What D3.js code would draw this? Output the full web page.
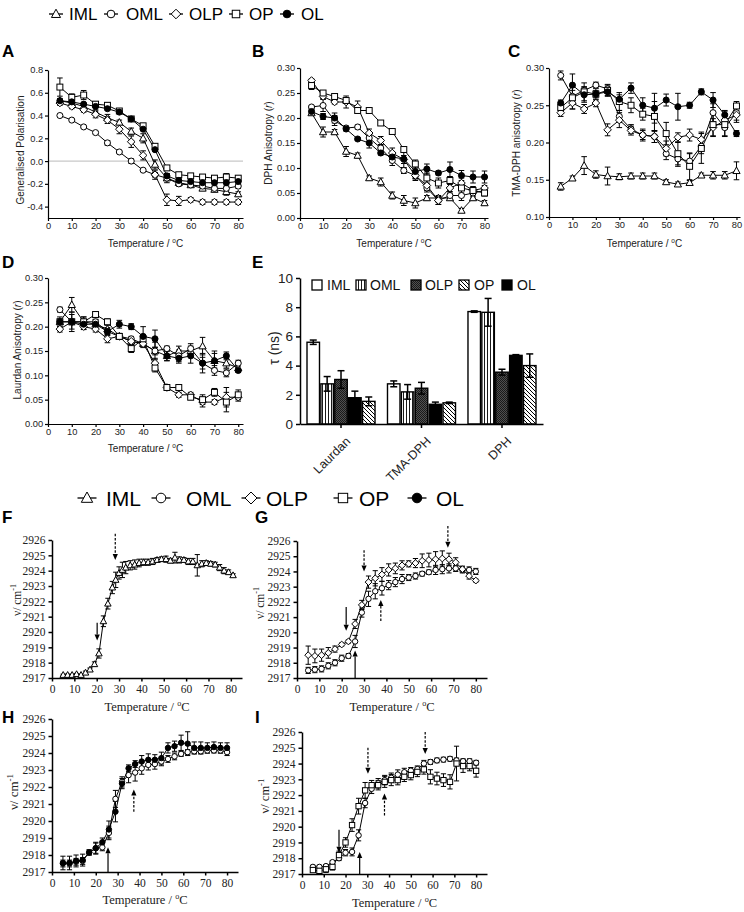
<!DOCTYPE html>
<html><head><meta charset="utf-8">
<script src="https://cdn.jsdelivr.net/npm/d3@7"></script>
<style>body{margin:0;background:#fff}</style>
</head><body><svg id="c" width="744" height="912"></svg>
<script>
// ---------- DATA ----------
const seriesNames = ["IML","OML","OLP","OP","OL"];
const tAD = [5,10,15,20,25,30,35,40,45,50,55,60,65,70,75,80];
const xTicks = [0,10,20,30,40,50,60,70,80];

// A: Generalised Polarisation
const gpIML = [0.53,0.51,0.48,0.43,0.38,0.34,0.26,0.20,-0.03,-0.15,-0.19,-0.21,-0.24,-0.25,-0.27,-0.29];
const gpOML = [0.40,0.36,0.30,0.25,0.16,0.08,0.00,-0.08,-0.12,-0.15,-0.20,-0.21,-0.22,-0.24,-0.24,-0.22];
const gpOLP = [0.51,0.48,0.45,0.41,0.36,0.28,0.17,0.05,-0.12,-0.34,-0.35,-0.34,-0.36,-0.36,-0.36,-0.36];
const gpOP  = [0.65,0.56,0.58,0.50,0.49,0.44,0.37,0.31,0.13,-0.06,-0.12,-0.13,-0.14,-0.15,-0.14,-0.15];
const gpOL  = [0.53,0.52,0.50,0.48,0.46,0.43,0.37,0.28,0.10,-0.13,-0.17,-0.18,-0.19,-0.19,-0.19,-0.18];
const gpIMLErr = [0.02,0.02,0.02,0.02,0.03,0.02,0.03,0.04,0.04,0.04,0.02,0.02,0.02,0.02,0.03,0.02];
const gpOMLErr = [0.01,0.01,0.01,0.01,0.02,0.01,0.02,0.01,0.02,0.02,0.02,0.02,0.02,0.02,0.02,0.02];
const gpOLPErr = [0.02,0.02,0.02,0.03,0.03,0.04,0.05,0.04,0.04,0.05,0.04,0.02,0.02,0.02,0.02,0.02];
const gpOPErr  = [0.08,0.03,0.04,0.02,0.02,0.01,0.02,0.02,0.02,0.02,0.02,0.02,0.02,0.02,0.03,0.02];
const gpOLErr  = [0.01,0.01,0.01,0.01,0.01,0.01,0.01,0.01,0.01,0.02,0.02,0.02,0.03,0.03,0.03,0.03];

// B: DPH anisotropy
const dphIML = [0.210,0.172,0.172,0.133,0.125,0.080,0.072,0.045,0.035,0.030,0.040,0.040,0.040,0.015,0.040,0.030];
const dphOML = [0.222,0.225,0.195,0.180,0.182,0.160,0.140,0.115,0.095,0.085,0.060,0.035,0.045,0.045,0.050,0.055];
const dphOLP = [0.275,0.243,0.232,0.232,0.222,0.170,0.155,0.130,0.117,0.085,0.065,0.035,0.060,0.070,0.055,0.060];
const dphOP  = [0.265,0.250,0.243,0.235,0.215,0.215,0.190,0.173,0.137,0.108,0.080,0.070,0.075,0.060,0.055,0.050];
const dphOL  = [0.213,0.203,0.200,0.178,0.158,0.150,0.130,0.122,0.118,0.093,0.098,0.090,0.097,0.085,0.082,0.082];
const dphIMLErr = [0.004,0.010,0.005,0.010,0.005,0.004,0.008,0.007,0.010,0.010,0.005,0.005,0.004,0.004,0.004,0.005];
const dphOMLErr = [0.003,0.012,0.010,0.004,0.004,0.004,0.006,0.010,0.006,0.006,0.008,0.008,0.008,0.010,0.008,0.006];
const dphOLPErr = [0.003,0.004,0.004,0.012,0.012,0.008,0.008,0.010,0.008,0.010,0.010,0.008,0.010,0.010,0.006,0.005];
const dphOPErr  = [0.008,0.003,0.004,0.003,0.004,0.004,0.003,0.003,0.005,0.008,0.010,0.010,0.008,0.010,0.008,0.006];
const dphOLErr  = [0.004,0.006,0.010,0.004,0.003,0.010,0.004,0.010,0.018,0.015,0.010,0.004,0.015,0.010,0.012,0.012];

// C: TMA-DPH anisotropy
const tmaIML = [0.141,0.152,0.169,0.157,0.155,0.154,0.155,0.155,0.155,0.147,0.144,0.146,0.156,0.156,0.156,0.162];
const tmaOML = [0.290,0.262,0.270,0.277,0.272,0.235,0.218,0.210,0.208,0.185,0.178,0.175,0.195,0.240,0.220,0.240];
const tmaOLP = [0.240,0.253,0.245,0.253,0.217,0.230,0.216,0.210,0.208,0.192,0.207,0.210,0.204,0.220,0.230,0.237];
const tmaOP  = [0.247,0.260,0.268,0.265,0.270,0.255,0.250,0.238,0.235,0.212,0.185,0.168,0.192,0.224,0.224,0.249];
const tmaOL  = [0.253,0.277,0.264,0.265,0.268,0.258,0.273,0.250,0.246,0.257,0.248,0.250,0.268,0.257,0.237,0.212];
const tmaIMLErr = [0.005,0.003,0.012,0.005,0.012,0.004,0.004,0.004,0.004,0.003,0.003,0.003,0.003,0.005,0.005,0.012];
const tmaOMLErr = [0.006,0.008,0.005,0.004,0.005,0.008,0.006,0.006,0.008,0.008,0.010,0.010,0.010,0.012,0.012,0.010];
const tmaOLPErr = [0.005,0.008,0.006,0.005,0.008,0.010,0.006,0.008,0.008,0.010,0.006,0.008,0.010,0.012,0.012,0.010];
const tmaOPErr  = [0.005,0.015,0.012,0.008,0.008,0.012,0.010,0.008,0.020,0.015,0.015,0.018,0.020,0.015,0.015,0.006];
const tmaOLErr  = [0.004,0.015,0.010,0.005,0.005,0.006,0.007,0.010,0.020,0.008,0.018,0.004,0.004,0.010,0.006,0.004];

// D: Laurdan anisotropy
const laIML = [0.210,0.245,0.210,0.205,0.195,0.180,0.170,0.165,0.150,0.140,0.150,0.150,0.160,0.130,0.125,0.115];
const laOML = [0.235,0.210,0.210,0.210,0.190,0.180,0.175,0.165,0.150,0.155,0.140,0.155,0.125,0.110,0.105,0.125];
const laOLP = [0.195,0.210,0.200,0.195,0.175,0.180,0.170,0.165,0.125,0.075,0.060,0.060,0.045,0.045,0.055,0.055];
const laOP  = [0.210,0.210,0.210,0.225,0.210,0.180,0.155,0.175,0.115,0.075,0.075,0.055,0.050,0.065,0.045,0.060];
const laOL  = [0.210,0.210,0.205,0.205,0.190,0.205,0.200,0.180,0.175,0.140,0.135,0.140,0.125,0.130,0.140,0.110];
const laIMLErr = [0.010,0.015,0.010,0.008,0.008,0.006,0.006,0.006,0.018,0.010,0.010,0.010,0.018,0.015,0.010,0.008];
const laOMLErr = [0.005,0.020,0.005,0.005,0.006,0.006,0.005,0.005,0.008,0.005,0.012,0.010,0.012,0.010,0.008,0.006];
const laOLPErr = [0.006,0.006,0.006,0.006,0.008,0.006,0.006,0.008,0.010,0.005,0.005,0.005,0.010,0.005,0.020,0.008];
const laOPErr  = [0.005,0.005,0.010,0.006,0.006,0.006,0.008,0.008,0.008,0.006,0.005,0.005,0.010,0.008,0.020,0.010];
const laOLErr  = [0.006,0.015,0.010,0.010,0.008,0.008,0.006,0.020,0.018,0.010,0.010,0.015,0.020,0.020,0.008,0.004];

// E: lifetimes (bar order IML, OML, OLP, OL, OP)
const probes = ["Laurdan","TMA-DPH","DPH"];
const barOrder = ["IML","OML","OLP","OL","OP"];
const tauIML = [5.6,2.75,7.7];
const tauOML = [2.75,2.2,7.65];
const tauOLP = [3.05,2.45,3.55];
const tauOL  = [1.8,1.35,4.7];
const tauOP  = [1.55,1.45,4.0];
const tauIMLErr = [0.15,0.2,0.05];
const tauOMLErr = [0.5,0.5,0.95];
const tauOLPErr = [0.6,0.4,0.2];
const tauOLErr  = [0.45,0.15,0.05];
const tauOPErr  = [0.3,0.05,0.8];
const tauTicks = [0,2,4,6,8,10];

// F-I: FTIR CH2 stretching
const nuTicks = [2917,2918,2919,2920,2921,2922,2923,2924,2925,2926];
const tF = [5,7,9,11,13,15,17,19,21,23,25,27,28.5,30,31.5,33,35,37,39,41,43,45,47,49,51,53,55,57,59,61,63,65,67,69,71,73,75,77,79,81];
const fIML = [2917.2,2917.2,2917.2,2917.25,2917.2,2917.35,2917.55,2917.9,2918.6,2920.7,2921.85,2922.9,2923.4,2923.85,2924.05,2924.2,2924.35,2924.4,2924.5,2924.55,2924.55,2924.6,2924.7,2924.75,2924.75,2924.65,2924.85,2924.7,2924.7,2924.6,2924.6,2924.35,2924.45,2924.5,2924.45,2924.4,2924.2,2924.0,2923.9,2923.7];
const fIMLErr = [0.05,0.05,0.05,0.05,0.05,0.1,0.1,0.15,0.3,0.35,0.35,0.4,0.5,0.4,0.5,0.4,0.3,0.3,0.25,0.2,0.2,0.2,0.15,0.15,0.2,0.15,0.35,0.2,0.15,0.2,0.2,0.7,0.2,0.15,0.15,0.15,0.2,0.2,0.15,0.1];
const tFT = [5,8,11,14,17,20,23,26,29,32,35,38,41,44,47,50,53,56,59,62,65,68,71,74,77,80];
const gOLP = [2918.5,2918.45,2918.5,2918.65,2918.9,2919.2,2919.4,2920.55,2921.8,2923.3,2923.55,2923.8,2924.1,2924.2,2924.4,2924.5,2924.55,2924.7,2924.75,2924.8,2924.85,2924.8,2924.6,2924.15,2923.7,2923.4];
const gOLPErr = [0.6,0.45,0.4,0.35,0.2,0.1,0.1,0.3,0.3,0.4,0.5,0.45,0.4,0.35,0.3,0.2,0.3,0.45,0.45,0.5,0.5,0.4,0.3,0.2,0.2,0.1];
const gOML = [2917.5,2917.55,2917.6,2917.8,2918.0,2918.3,2918.45,2919.4,2921.3,2922.2,2922.7,2922.9,2923.1,2923.3,2923.5,2923.6,2923.7,2923.85,2923.95,2924.1,2924.15,2924.2,2924.2,2924.1,2924.1,2924.0];
const gOMLErr = [0.2,0.2,0.2,0.2,0.2,0.2,0.15,0.4,0.3,0.5,0.5,0.45,0.3,0.3,0.3,0.2,0.2,0.15,0.15,0.3,0.3,0.3,0.2,0.2,0.2,0.2];
const hOL  = [2917.53,2917.53,2917.65,2917.7,2918.15,2918.4,2918.75,2919.5,2920.55,2922.2,2923.1,2923.35,2923.5,2923.6,2923.6,2923.7,2924.3,2924.4,2924.6,2924.55,2924.3,2924.3,2924.3,2924.35,2924.3,2924.3];
const hOLErr = [0.4,0.4,0.35,0.35,0.15,0.35,0.25,0.5,0.6,0.3,0.2,0.2,0.35,0.35,0.3,0.35,0.3,0.3,0.45,0.7,0.35,0.35,0.3,0.3,0.3,0.3];
const hOML = [2917.5,2917.5,2917.6,2917.65,2918.15,2918.4,2918.45,2919.3,2921.3,2922.3,2922.7,2922.85,2923.1,2923.3,2923.35,2923.5,2923.65,2923.8,2923.95,2924.05,2924.1,2924.1,2924.15,2924.15,2924.15,2924.05];
const hOMLErr = [0.2,0.2,0.2,0.2,0.15,0.3,0.2,0.4,0.5,0.3,0.45,0.5,0.35,0.3,0.3,0.25,0.2,0.2,0.15,0.15,0.15,0.15,0.15,0.15,0.15,0.2];
const iOP  = [2917.25,2917.2,2917.3,2917.45,2918.2,2919.0,2920.1,2921.3,2922.3,2922.63,2922.63,2922.84,2922.95,2922.95,2923.16,2923.27,2923.47,2923.63,2923.16,2923.05,2922.95,2922.84,2924.0,2923.84,2923.84,2923.54];
const iOPErr = [0.1,0.15,0.2,0.2,0.25,0.3,0.4,0.5,0.5,0.3,0.3,0.35,0.35,0.3,0.3,0.3,0.3,0.3,0.45,0.4,0.4,0.45,1.1,0.4,0.3,0.4];
const iOML = [2917.45,2917.45,2917.5,2917.75,2918.0,2918.35,2918.4,2919.45,2921.5,2922.4,2922.75,2922.95,2923.1,2923.3,2923.45,2923.55,2923.65,2924.0,2924.1,2924.2,2924.25,2924.3,2924.2,2924.15,2924.15,2924.05];
const iOMLErr = [0.1,0.1,0.1,0.1,0.15,0.2,0.25,0.35,0.3,0.3,0.3,0.3,0.3,0.3,0.25,0.2,0.2,0.2,0.15,0.15,0.15,0.15,0.15,0.15,0.15,0.15];

// transition arrows: [temperature, from, to, dashed]
const arrowsF = [[20.2,2920.6,2919.45,false],[28.3,2926.4,2924.7,true]];
const arrowsG = [[22,2921.67,2920.1,false],[26,2916.95,2918.8,false],[30,2925.4,2924.0,true],[37.5,2920.75,2922.13,true],[67.5,2926.98,2925.55,true]];
const arrowsH = [[25.6,2916.95,2918.45,false],[37.4,2920.55,2921.85,true]];
const arrowsI = [[17,2919.8,2918.35,false],[26.5,2916.95,2918.4,false],[30.3,2925.0,2923.35,true],[37.9,2920.7,2922.1,true],[56.6,2926.0,2924.6,true]];

// ---------- DRAWING ----------
const svg = d3.select('#c');
const SANS = 'Liberation Sans, Arial, Helvetica, sans-serif';
const SERIF = 'Liberation Serif, Times New Roman, serif';
const symOf = {IML:'tri', OML:'circ', OLP:'diam', OP:'sq', OL:'fill'};

function sym(g, type, x, y, s) {
  let p;
  if (type === 'tri') p = g.append('path').attr('d', `M${x},${y-s} L${x+s*0.95},${y+s*0.72} L${x-s*0.95},${y+s*0.72}Z`);
  else if (type === 'diam') p = g.append('path').attr('d', `M${x},${y-s} L${x+s},${y} L${x},${y+s} L${x-s},${y}Z`);
  else if (type === 'sq') p = g.append('rect').attr('x', x-s*0.78).attr('y', y-s*0.78).attr('width', s*1.56).attr('height', s*1.56);
  else p = g.append('circle').attr('cx', x).attr('cy', y).attr('r', s*0.8);
  p.attr('fill', type === 'fill' ? '#000' : '#fff').attr('stroke', '#000').attr('stroke-width', 1);
}

function styleAxis(sel, font, fs, w) {
  sel.attr('font-family', font).attr('font-size', fs);
  sel.select('.domain').attr('stroke', '#000').attr('stroke-width', w);
  sel.selectAll('.tick line').attr('stroke', '#000').attr('stroke-width', w);
  sel.selectAll('.tick text').attr('fill', '#222');
}

function xTitle(g, x, y, fs, font) {
  const t = g.append('text').attr('x', x).attr('y', y).attr('text-anchor', 'middle')
    .attr('font-family', font).attr('font-size', fs).attr('fill', '#222');
  t.append('tspan').text('Temperature / ');
  t.append('tspan').text('o').attr('font-size', fs*0.65).attr('dy', -fs*0.4);
  t.append('tspan').text('C').attr('dy', fs*0.4);
}

function letter(txt, x, y) {
  svg.append('text').attr('x', x).attr('y', y).text(txt)
    .attr('font-family', SANS).attr('font-weight', 'bold').attr('font-size', 17).attr('fill', '#000');
}

function arrow(g, x, y1, y2, dashed) {
  const dir = Math.sign(y2 - y1), hl = 6, hw = 2.6;
  g.append('line').attr('x1', x).attr('x2', x).attr('y1', y1).attr('y2', y2 - dir*hl)
    .attr('stroke', '#000').attr('stroke-width', 1.2).attr('stroke-dasharray', dashed ? '2.5,1.6' : null);
  g.append('path').attr('d', `M${x-hw},${y2-dir*hl} L${x+hw},${y2-dir*hl} L${x},${y2}Z`).attr('fill', '#000');
}

function linePanel(o) {
  const g = svg.append('g');
  const x = d3.scaleLinear().domain(o.xd).range(o.xr);
  const y = d3.scaleLinear().domain(o.yd).range(o.yr);
  if (o.zero) {
    g.append('line').attr('x1', o.xr[0]).attr('x2', o.xr[1]).attr('y1', y(0)).attr('y2', y(0))
      .attr('stroke', '#c8c8c8').attr('stroke-width', 1.2);
  }
  const ax = g.append('g').attr('transform', `translate(0,${o.yr[0]})`)
    .call(d3.axisBottom(x).tickValues(xTicks).tickSize(o.tick).tickPadding(o.pad).tickSizeOuter(0).tickFormat(d => d));
  styleAxis(ax, o.font, o.fs, o.aw);
  const ay = g.append('g').attr('transform', `translate(${o.xr[0]},0)`)
    .call(d3.axisLeft(y).tickValues(o.yt).tickSize(o.tick).tickPadding(o.pad).tickSizeOuter(0).tickFormat(o.yf));
  styleAxis(ay, o.font, o.fs, o.aw);
  const line = d3.line().x(d => x(d[0])).y(d => y(d[1]));
  o.series.forEach(s => {
    const pts = s.t.map((t, i) => [t, s.v[i]]);
    g.append('path').attr('d', line(pts)).attr('fill', 'none').attr('stroke', '#000').attr('stroke-width', 1);
    s.t.forEach((t, i) => {
      const e = s.e[i], cx = x(t);
      const ya = y(s.v[i] + e), yb = y(s.v[i] - e);
      g.append('line').attr('x1', cx).attr('x2', cx).attr('y1', ya).attr('y2', yb).attr('stroke', '#000').attr('stroke-width', 1);
      [ya, yb].forEach(yy => g.append('line').attr('x1', cx - o.cap).attr('x2', cx + o.cap).attr('y1', yy).attr('y2', yy).attr('stroke', '#000').attr('stroke-width', 1));
    });
  });
  o.series.forEach(s => s.t.forEach((t, i) => sym(g, s.s, x(t), y(s.v[i]), o.ms)));
  if (o.arrows) o.arrows.forEach(a => arrow(g, x(a[0]), y(a[1]), y(a[2]), a[3]));
  xTitle(g, (o.xr[0] + o.xr[1]) / 2, o.titleY, o.tfs, o.font);
  const yl = g.append('text').attr('transform', `translate(${o.ylx},${o.yly}) rotate(-90)`)
    .attr('text-anchor', 'middle').attr('font-family', o.font).attr('font-size', o.yfs).attr('fill', '#222');
  o.ylab(yl, o.yfs);
  return {x, y};
}

// ----- top legend -----
function legend(items, cy, s, lineHalf, font, fs) {
  items.forEach(([name, sx, tx]) => {
    svg.append('line').attr('x1', sx - lineHalf).attr('x2', sx + lineHalf).attr('y1', cy).attr('y2', cy).attr('stroke', '#000').attr('stroke-width', 1.3);
    sym(svg, symOf[name], sx, cy, s);
    svg.append('text').attr('x', tx).attr('y', cy + fs*0.36).text(name)
      .attr('font-family', font).attr('font-size', fs).attr('fill', '#000');
  });
}
legend([["IML",56,69],["OML",111,126],["OLP",176,189],["OP",236,249],["OL",287,301]], 14, 4.8, 7,
  'Liberation Sans Narrow, Arial Narrow, Liberation Sans, sans-serif', 17);

const simpleLab = txt => (t, fs) => t.text(txt);
const rLab = pre => (t, fs) => { t.append('tspan').text(pre + ' ('); t.append('tspan').text('r').attr('font-style', 'italic'); t.append('tspan').text(')'); };
const mk = (vals, errs) => seriesNames.map((n, k) => ({t: tAD, v: vals[k], e: errs[k], s: symOf[n]}));
const baseAD = {xd:[0,82], font:SANS, fs:9.3, tfs:10, yfs:10, aw:1.2, tick:3, pad:1.8, cap:2.8, ms:3.8};

letter('A', 2, 57);
linePanel(Object.assign({}, baseAD, {xr:[48,243], yr:[218,70], yd:[-0.5,0.8], yt:[-0.4,-0.2,0,0.2,0.4,0.6,0.8],
  yf: d => d.toFixed(1), zero:true, titleY:247, ylx:24, yly:150, ylab: simpleLab('Generalised Polarisation'),
  series: mk([gpIML,gpOML,gpOLP,gpOP,gpOL],[gpIMLErr,gpOMLErr,gpOLPErr,gpOPErr,gpOLErr])}));

letter('B', 252, 57);
linePanel(Object.assign({}, baseAD, {xr:[300,488], xd:[0,81.5], yr:[218,68], yd:[0,0.3], yt:[0,0.05,0.1,0.15,0.2,0.25,0.3],
  yf: d => d.toFixed(2), titleY:247, ylx:272, yly:143, ylab: rLab('DPH Anisotropy'),
  series: mk([dphIML,dphOML,dphOLP,dphOP,dphOL],[dphIMLErr,dphOMLErr,dphOLPErr,dphOPErr,dphOLErr])}));

letter('C', 508, 57);
linePanel(Object.assign({}, baseAD, {xr:[549,740], xd:[0,81.5], yr:[217,68], yd:[0.1,0.3], yt:[0.1,0.15,0.2,0.25,0.3],
  yf: d => d.toFixed(2), titleY:247, ylx:520, yly:143, ylab: rLab('TMA-DPH anisotropy'),
  series: mk([tmaIML,tmaOML,tmaOLP,tmaOP,tmaOL],[tmaIMLErr,tmaOMLErr,tmaOLPErr,tmaOPErr,tmaOLErr])}));

letter('D', 2, 268);
linePanel(Object.assign({}, baseAD, {xr:[48,243], yr:[424,278], yd:[0,0.3], yt:[0,0.05,0.1,0.15,0.2,0.25,0.3],
  yf: d => d.toFixed(2), titleY:452, ylx:21, yly:350, ylab: rLab('Laurdan Anisotropy'),
  series: mk([laIML,laOML,laOLP,laOP,laOL],[laIMLErr,laOMLErr,laOLPErr,laOPErr,laOLErr])}));

// ----- E: bar chart -----
letter('E', 252, 268);
(function () {
  const defs = svg.append('defs');
  const pv = defs.append('pattern').attr('id', 'pVert').attr('patternUnits', 'userSpaceOnUse').attr('width', 3).attr('height', 3);
  pv.append('rect').attr('width', 3).attr('height', 3).attr('fill', '#fff');
  pv.append('line').attr('x1', 1.5).attr('x2', 1.5).attr('y1', 0).attr('y2', 3).attr('stroke', '#000').attr('stroke-width', 0.9);
  const pc = defs.append('pattern').attr('id', 'pDark').attr('patternUnits', 'userSpaceOnUse').attr('width', 2).attr('height', 2);
  pc.append('rect').attr('width', 2).attr('height', 2).attr('fill', '#505050');
  pc.append('rect').attr('width', 1).attr('height', 1).attr('fill', '#1a1a1a');
  pc.append('rect').attr('x', 1).attr('y', 1).attr('width', 1).attr('height', 1).attr('fill', '#1a1a1a');
  const pd = defs.append('pattern').attr('id', 'pDiag').attr('patternUnits', 'userSpaceOnUse').attr('width', 4).attr('height', 4);
  pd.append('rect').attr('width', 4).attr('height', 4).attr('fill', '#fff');
  pd.append('path').attr('d', 'M-1,-1 L5,5 M-1,3 L1,5 M3,-1 L5,1').attr('stroke', '#000').attr('stroke-width', 1);
  const fills = {IML:'#fff', OML:'url(#pVert)', OLP:'url(#pDark)', OL:'#000', OP:'url(#pDiag)'};
  const vals = {IML:tauIML, OML:tauOML, OLP:tauOLP, OL:tauOL, OP:tauOP};
  const errs = {IML:tauIMLErr, OML:tauOMLErr, OLP:tauOLPErr, OL:tauOLErr, OP:tauOPErr};

  const g = svg.append('g');
  const x0 = d3.scaleBand().domain(probes).range([300, 543]).paddingInner(0.155).paddingOuter(0.087);
  const x1 = d3.scaleBand().domain(barOrder).range([0, x0.bandwidth()]).paddingInner(0.1);
  const y = d3.scaleLinear().domain([0, 10]).range([424, 278]);
  probes.forEach((p, pi) => {
    barOrder.forEach(n => {
      const bx = x0(p) + x1(n), v = vals[n][pi], e = errs[n][pi], cx = bx + x1.bandwidth()/2;
      g.append('rect').attr('x', bx).attr('y', y(v)).attr('width', x1.bandwidth()).attr('height', y(0) - y(v))
        .attr('fill', fills[n]).attr('stroke', '#000').attr('stroke-width', 1.4);
      g.append('line').attr('x1', cx).attr('x2', cx).attr('y1', y(v + e)).attr('y2', y(v - e)).attr('stroke', '#000').attr('stroke-width', 1.5);
      [v + e, v - e].forEach(vv => g.append('line').attr('x1', cx - 3.5).attr('x2', cx + 3.5).attr('y1', y(vv)).attr('y2', y(vv)).attr('stroke', '#000').attr('stroke-width', 1.5));
    });
  });
  const ay = g.append('g').attr('transform', 'translate(300,0)')
    .call(d3.axisLeft(y).tickValues(tauTicks).tickSize(4).tickSizeOuter(0));
  styleAxis(ay, SANS, 13.5, 1.5);
  const ax = g.append('g').attr('transform', 'translate(0,424)')
    .call(d3.axisBottom(x0).tickSize(4).tickSizeOuter(0));
  styleAxis(ax, SANS, 12.5, 1.5);
  ax.selectAll('.tick text').attr('text-anchor', 'end').attr('dy', '0.35em')
    .attr('transform', 'translate(2,10) rotate(-45)');
  g.append('text').attr('transform', 'translate(279,348) rotate(-90)').attr('text-anchor', 'middle')
    .attr('font-family', SANS).attr('font-size', 14).attr('fill', '#222').text('τ (ns)');
  // legend
  const leg = [["IML",312,327],["OML",356,370],["OLP",411,425],["OP",459,474],["OL",502,517]];
  leg.forEach(([n, sx, tx]) => {
    g.append('rect').attr('x', sx).attr('y', 280).attr('width', 10).attr('height', 10)
      .attr('fill', fills[n]).attr('stroke', '#000').attr('stroke-width', 1.3);
    g.append('text').attr('x', tx).attr('y', 290).text(n).attr('font-family', SANS).attr('font-size', 14).attr('fill', '#111');
  });
})();

// ----- middle legend -----
legend([["IML",87,106],["OML",161,186],["OLP",251,266],["OP",343,359],["OL",417,436]], 498, 6, 9.5, SANS, 21);

// ----- F-I -----
const nuLab = (t, fs) => { t.append('tspan').text('ν/ cm'); t.append('tspan').text('-1').attr('font-size', fs*0.7).attr('dy', -fs*0.4); };
const baseFI = {xd:[0,85], font:SERIF, fs:11.5, tfs:12.5, aw:1.5, tick:3.5, pad:3, cap:2.6, ms:3.4, yt:nuTicks, yf: d => d, yd:[2917,2926], ylab: nuLab};

letter('F', 2, 523);
linePanel(Object.assign({}, baseFI, {xr:[52,242], yr:[678,540], titleY:711, ylx:21, yly:600, yfs:11.5,
  series:[{t:tF, v:fIML, e:fIMLErr, s:'tri'}], arrows: arrowsF}));

letter('G', 255, 523);
linePanel(Object.assign({}, baseFI, {xr:[297,487], yr:[678,541], titleY:711, ylx:264, yly:603, yfs:11.5,
  series:[{t:tFT, v:gOML, e:gOMLErr, s:'circ'},{t:tFT, v:gOLP, e:gOLPErr, s:'diam'}], arrows: arrowsG}));

letter('H', 2, 723);
linePanel(Object.assign({}, baseFI, {xr:[52,238], yr:[872,719], titleY:904, ylx:18, yly:792, yfs:13,
  series:[{t:tFT, v:hOML, e:hOMLErr, s:'circ'},{t:tFT, v:hOL, e:hOLErr, s:'fill'}], arrows: arrowsH}));

letter('I', 255, 723);
linePanel(Object.assign({}, baseFI, {xr:[302,487], yr:[874,732], titleY:907, ylx:269, yly:796, yfs:12.5,
  series:[{t:tFT, v:iOML, e:iOMLErr, s:'circ'},{t:tFT, v:iOP, e:iOPErr, s:'sq'}], arrows: arrowsI}));
</script></body></html>
